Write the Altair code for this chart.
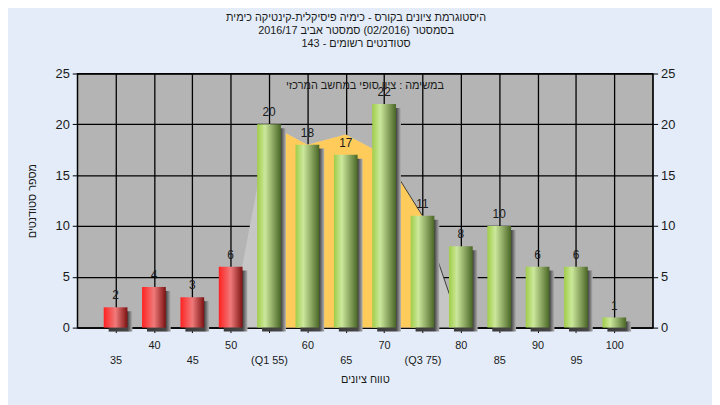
import altair as alt
import pandas as pd

# ---- data ----
scores = [35, 40, 45, 50, 55, 60, 65, 70, 75, 80, 85, 90, 95, 100]
counts = [2, 4, 3, 6, 20, 18, 17, 22, 11, 8, 10, 6, 6, 1]
fail_limit = 55  # bars below this are red

curve_x = [50, 55, 60, 65, 70, 75, 80]
curve_v = [0, 20, 18, 19, 17, 11, 0]
q1, q3 = 55, 75

title_lines = [
    "היסטוגרמת ציונים בקורס - כימיה פיסיקלית-קינטיקה כימית",
    "בסמסטר  (02/2016)  סמסטר אביב 2016/17",
    "סטודנטים רשומים - 143",
]
inner_note = "במשימה : ציון סופי במחשב המרכזי"
x_title = "טווח ציונים"
y_title = "מספר סטודנטים"

FONT = "Liberation Sans"
TXT = "#1a1a1a"
W, H = 582, 257

bars = pd.DataFrame({"score": scores, "count": counts})
bars["grp"] = ["red" if s < fail_limit else "green" for s in scores]
curve = pd.DataFrame({"score": curve_x, "v": curve_v})

xscale = alt.Scale(domain=[30, 105], nice=False, zero=False, padding=0, range=[0, W])
yscale = alt.Scale(domain=[0, 25], nice=False)

label_expr = (
    "indexof([35,45,55,65,75,85,95], datum.value) >= 0 ? "
    "[' ', datum.value == 55 ? '(Q1 55)' : (datum.value == 75 ? '(Q3 75)' : datum.label)] "
    ": datum.label"
)

x_axis = alt.Axis(
    values=scores, grid=True, gridColor="#000", gridWidth=1.3,
    domainColor="#000", tickColor="#000", tickSize=5,
    labelExpr=label_expr, labelOverlap=False, labelFlush=False,
    labelFont=FONT, labelFontSize=11, labelColor=TXT, labelPadding=7,
    labelBaseline="top", labelLineHeight=15,
    title=x_title, titleFont=FONT, titleFontSize=11, titleFontWeight="normal",
    titleColor=TXT, titleY=53, titleBaseline="middle",
)
y_axis_left = alt.Axis(
    values=[0, 5, 10, 15, 20, 25], grid=True, gridColor="#000", gridWidth=1.3,
    domainColor="#000", tickColor="#000", tickSize=5,
    labelFont=FONT, labelFontSize=13, labelColor=TXT, labelPadding=3,
    title=y_title, titleFont=FONT, titleFontSize=11, titleFontWeight="normal",
    titleColor=TXT, titleX=-45, titleY=H / 2, titleBaseline="middle",
)
y_axis_right = alt.Axis(
    orient="right", values=[0, 5, 10, 15, 20, 25], grid=False,
    domainColor="#000", tickColor="#000", tickSize=5,
    labelFont=FONT, labelFontSize=13, labelColor=TXT, labelPadding=3, title=None,
)

X = alt.X("score:Q", scale=xscale, axis=x_axis)


def Yn(field):
    return alt.Y(field, scale=yscale, axis=None)


gray_area = alt.Chart(curve).mark_area(color="#c6c6c6", opacity=1).encode(
    x=X, y=alt.Y("v:Q", scale=yscale, axis=y_axis_left)
)
yellow_area = alt.Chart(curve).transform_filter(
    (alt.datum.score >= q1) & (alt.datum.score <= q3)
).mark_area(color="#ffcc5c").encode(x=X, y=Yn("v:Q"))
edge_line = alt.Chart(curve).transform_filter(
    alt.datum.score >= 70
).mark_line(color="#3a3a3a", strokeWidth=1).encode(x=X, y=Yn("v:Q"))


def grad(stops):
    return alt.LinearGradient(
        gradient="linear", x1=0, x2=1, y1=0, y2=0,
        stops=[alt.GradientStop(offset=o, color=c) for o, c in stops],
    )


shadow = alt.Chart(bars).mark_bar(
    size=24, xOffset=5, yOffset=4,
    color=grad([(0, "#3a3a3a"), (0.8, "#474747"), (1, "#b2b2b2")]),
).encode(x=X, y=Yn("count:Q"))

red_bars = alt.Chart(bars).transform_filter(alt.datum.grp == "red").mark_bar(
    size=24,
    color=grad([(0, "#ff2222"), (0.5, "#f07a7a"), (1, "#7c1212")]),
).encode(x=X, y=Yn("count:Q"))

green_bars = alt.Chart(bars).transform_filter(alt.datum.grp == "green").mark_bar(
    size=24,
    color=grad([(0, "#9fcd48"), (0.33, "#cce89c"), (1, "#4a6626")]),
).encode(x=X, y=Yn("count:Q"))

values = alt.Chart(bars).mark_text(
    font=FONT, fontSize=12, color=TXT, baseline="middle", dy=-12
).encode(x=X, y=Yn("count:Q"), text="count:Q")

right_axis = alt.Chart(bars).mark_point(opacity=0).encode(
    x=X, y=alt.Y("count:Q", scale=yscale, axis=y_axis_right)
)

note = alt.Chart(pd.DataFrame({"t": [inner_note]})).mark_text(
    font=FONT, fontSize=11, color=TXT, baseline="middle"
).encode(x=alt.value(W / 2), y=alt.value(13), text="t:N")

chart = (
    alt.layer(gray_area, yellow_area, edge_line, shadow, red_bars, green_bars,
              values, note, right_axis)
    .resolve_axis(y="independent")
    .properties(
        width=W, height=H,
        autosize=alt.AutoSizeParams(type="none"),
        padding={"left": 70, "top": 64, "right": 60, "bottom": 76},
        title=alt.TitleParams(
            text=title_lines, font=FONT, fontSize=11, fontWeight="normal",
            color=TXT, anchor="middle", dx=-9, lineHeight=13, offset=19,
        ),
        background="#e3ecf8",
    )
    .configure_view(fill="#b4b4b4", stroke="#000", strokeWidth=1.3)
)

chart.save("out.html", embed_options={"renderer": "svg", "actions": False})
